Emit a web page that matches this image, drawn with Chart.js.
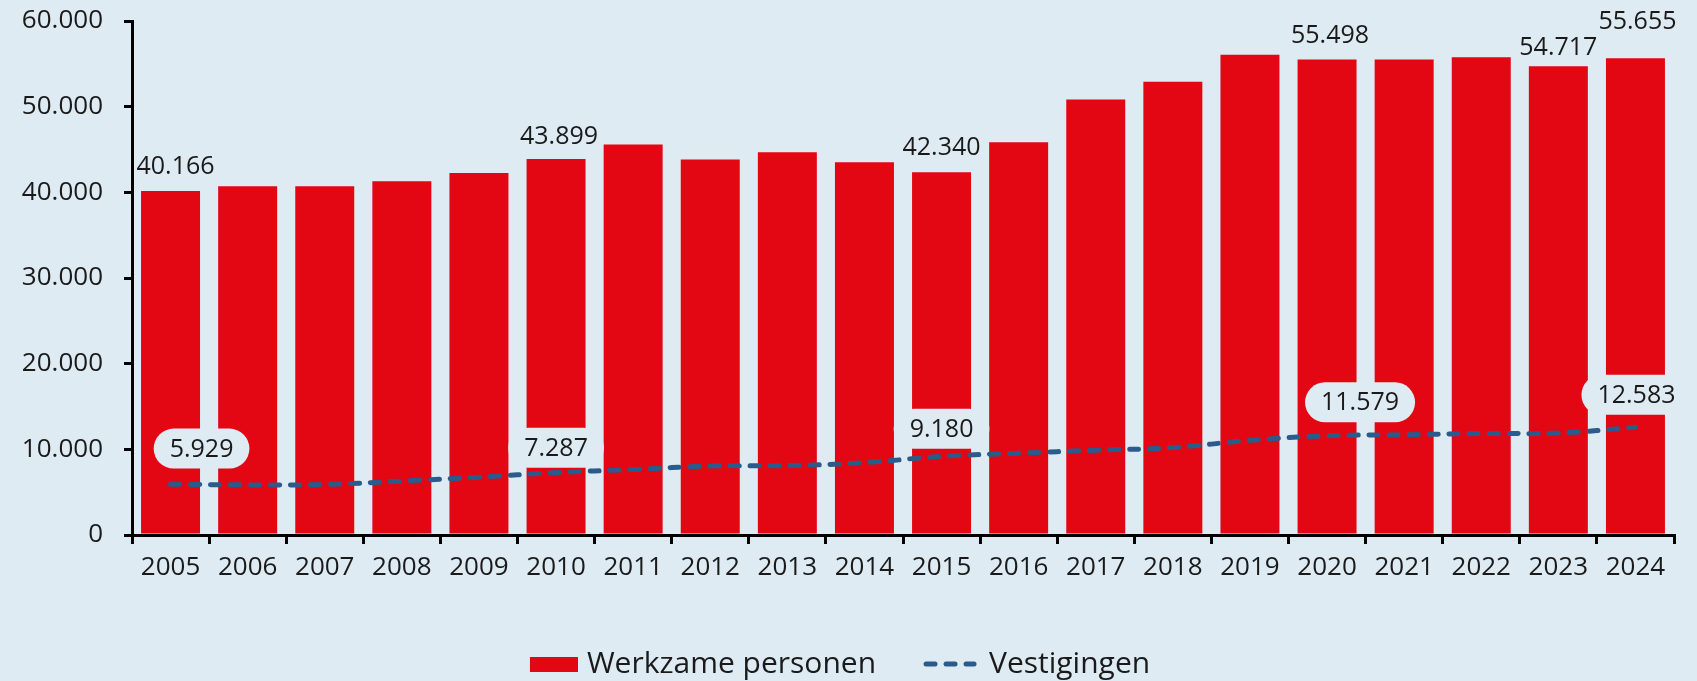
<!DOCTYPE html>
<html>
<head>
<meta charset="utf-8">
<script src="https://cdn.jsdelivr.net/npm/chart.js@4.4.1/dist/chart.umd.min.js"></script>
<style>
  html, body { margin: 0; padding: 0; background: #deebf3; }
  #wrap { width: 1697px; height: 681px; position: relative; }
</style>
</head>
<body>
<div id="wrap"><canvas id="c"></canvas></div>
<script>
// ---- data ----
const years = ['2005','2006','2007','2008','2009','2010','2011','2012','2013','2014','2015','2016','2017','2018','2019','2020','2021','2022','2023','2024'];
const werkzamePersonen = [40166, 40700, 40700, 41300, 42250, 43899, 45580, 43830, 44680, 43510, 42340, 45850, 50840, 52900, 56050, 55498, 55500, 55770, 54717, 55655];
const vestigingen = [5929, 5850, 5900, 6300, 6750, 7287, 7650, 8050, 8100, 8450, 9180, 9550, 9900, 10200, 11050, 11579, 11700, 11850, 11900, 12583];
const yTicks = [0, 10000, 20000, 30000, 40000, 50000, 60000];
const seriesNames = ['Werkzame personen', 'Vestigingen'];

// which points carry a value label (indices into the data arrays)
const barLabelIdx = [0, 5, 10, 15, 18, 19];
const lineLabelIdx = [0, 5, 10, 15, 19];

// ---- style ----
const BG = '#deebf3';
const RED = '#e30613';
const BLUE = '#2b5b8a';
const TEXT = '#1a1a1a';
const FONT = "'Open Sans', 'Noto Sans', sans-serif";
const FS = 25;       // value labels
const TICK_FS = 26;  // axis ticks
const LEG_FS = 30;   // legend
// label placement offsets (px) relative to bar top / line point
const barLabelOffset = { 0: [5, -24], 5: [3, -22], 10: [0, -24], 15: [3, -23.5], 18: [0, -18.5], 19: [2, -36.5] };
const lineLabelOffset = { 0: [31, -35.6], 5: [0, -24.7], 10: [0, -27.5], 15: [33, -33.5], 19: [1, -32.4] };

const fmt = v => String(Math.round(v)).replace(/\B(?=(\d{3})+(?!\d))/g, '.');

// legend swatch for the bars: red block sitting close to its text
const barSwatch = document.createElement('canvas');
barSwatch.width = 60; barSwatch.height = 15;
(() => { const g = barSwatch.getContext('2d'); g.fillStyle = RED; g.fillRect(12, 0, 48, 15); })();

const valueLabels = {
  id: 'valueLabels',
  afterDatasetsDraw(chart) {
    const ctx = chart.ctx;
    ctx.save();
    ctx.font = `${FS}px ${FONT}`;
    ctx.textAlign = 'center';
    ctx.textBaseline = 'middle';
    const barMeta = chart.getDatasetMeta(0);
    barLabelIdx.forEach(i => {
      const el = barMeta.data[i];
      const [dx, dy] = barLabelOffset[i] || [0, -24];
      ctx.fillStyle = TEXT;
      ctx.fillText(fmt(werkzamePersonen[i]), el.x + dx, el.y + dy);
    });
    const lineMeta = chart.getDatasetMeta(1);
    lineLabelIdx.forEach(i => {
      const el = lineMeta.data[i];
      const [dx, dy] = lineLabelOffset[i] || [0, -30];
      const txt = fmt(vestigingen[i]);
      const w = ctx.measureText(txt).width + 32;
      const h = 40;
      const cx = el.x + dx, cy = el.y + dy;
      ctx.fillStyle = BG;
      ctx.beginPath();
      ctx.roundRect(cx - w / 2, cy - h / 2, w, h, h / 2);
      ctx.fill();
      ctx.fillStyle = TEXT;
      ctx.fillText(txt, cx, cy + 1);
    });
    ctx.restore();
  }
};

new Chart(document.getElementById('c'), {
  type: 'bar',
  data: {
    labels: years,
    datasets: [
      {
        type: 'bar',
        label: seriesNames[0],
        data: werkzamePersonen,
        backgroundColor: RED,
        borderWidth: 0,
        barPercentage: 0.765,
        categoryPercentage: 1.0,
        order: 2
      },
      {
        type: 'line',
        label: seriesNames[1],
        data: vestigingen,
        borderColor: BLUE,
        backgroundColor: BLUE,
        borderWidth: 5,
        borderDash: [9, 11],
        borderCapStyle: 'round',
        tension: 0.4,
        pointRadius: 0,
        fill: false,
        order: 1
      }
    ]
  },
  options: {
    responsive: true,
    maintainAspectRatio: false,
    animation: false,
    layout: { padding: { top: 21, right: 23, bottom: -8, left: 0 } },
    plugins: {
      tooltip: { enabled: false },
      legend: {
        position: 'bottom',
        align: 'center',
        labels: {
          usePointStyle: true,
          pointStyleWidth: 48,
          boxHeight: 15,
          padding: 50,
          color: TEXT,
          font: { family: FONT, size: LEG_FS },
          generateLabels(chart) {
            const ds = chart.data.datasets;
            return [
              { text: ds[0].label, fillStyle: RED, strokeStyle: RED, lineWidth: 0, pointStyle: barSwatch, datasetIndex: 0, hidden: false, fontColor: TEXT },
              { text: ds[1].label, fillStyle: BLUE, strokeStyle: BLUE, lineWidth: 5, lineDash: [9, 11], lineCap: 'round', pointStyle: 'line', datasetIndex: 1, hidden: false, fontColor: TEXT }
            ];
          }
        }
      }
    },
    scales: {
      x: {
        offset: true,
        grid: { display: true, drawOnChartArea: false, offset: true, color: '#000', lineWidth: 3, tickLength: 9, tickWidth: 3 },
        border: { display: true, color: '#000', width: 3 },
        ticks: { color: TEXT, font: { family: FONT, size: TICK_FS }, padding: 8, maxRotation: 0, autoSkip: false },
        afterFit(s) { s.height = 64; }
      },
      y: {
        min: 0,
        max: 60000,
        afterBuildTicks(s) { s.ticks = yTicks.map(v => ({ value: v })); },
        grid: { display: true, drawOnChartArea: false, color: '#000', lineWidth: 3, tickLength: 8 },
        border: { display: true, color: '#000', width: 3 },
        ticks: { color: TEXT, font: { family: FONT, size: TICK_FS }, padding: 21, callback: v => fmt(v) },
        afterFit(s) { s.width = 132; s.paddingTop = 0; s.paddingBottom = 0; }
      }
    }
  },
  plugins: [valueLabels]
});
</script>
</body>
</html>
